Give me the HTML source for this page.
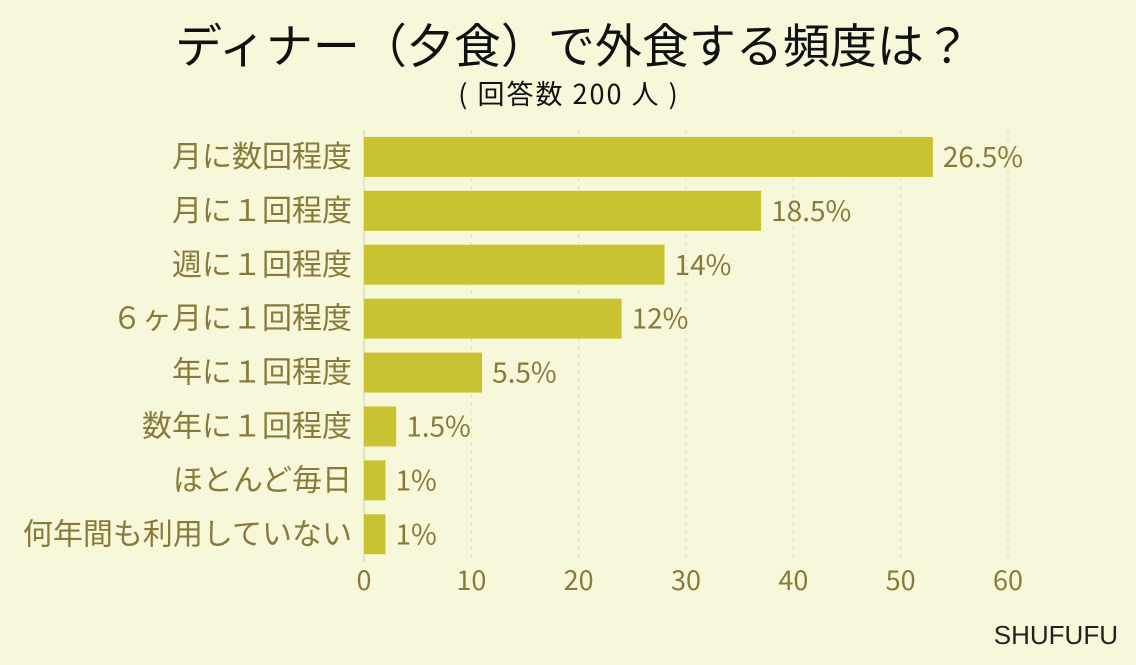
<!DOCTYPE html>
<html><head><meta charset="utf-8">
<style>
body{margin:0;background:#f7f7da;}
#wrap{position:relative;width:1136px;height:665px;background:#f7f7da;font-family:"Liberation Sans","Noto Sans CJK JP",sans-serif;overflow:hidden;}
</style></head>
<body>
<div id="wrap">
<svg id="chart" width="1136" height="665" xmlns="http://www.w3.org/2000/svg">
<text x="573" y="63" text-anchor="middle" font-size="47" fill="#111" font-family="Noto Sans CJK JP, sans-serif">ディナー（夕食）で外食する頻度は？</text>
<text x="569" y="104" text-anchor="middle" font-size="27" letter-spacing="2" fill="#111" font-family="Noto Sans CJK JP, sans-serif">( 回答数 200 人 )</text>
<text x="1118" y="644" text-anchor="end" font-size="26" fill="#222" font-family="Liberation Sans, sans-serif">SHUFUFU</text>
<g id="grid"></g><g id="bars"></g><g id="labels"></g><g id="ticks"></g>
</svg>
</div>
<script>
const categories=["月に数回程度","月に１回程度","週に１回程度","６ヶ月に１回程度","年に１回程度","数年に１回程度","ほとんど毎日","何年間も利用していない"];
const counts=[53,37,28,24,11,3,2,2];
const percentLabels=["26.5%","18.5%","14%","12%","5.5%","1.5%","1%","1%"];
const tickValues=[0,10,20,30,40,50,60];
const NS="http://www.w3.org/2000/svg";
const x0=364,x1=1008,xmax=60,top0=130,rowH=53.9,barH=40;
const xs=v=>x0+(x1-x0)*v/xmax;
const yc=i=>top0+rowH*(i+0.5);
function mk(t,a,p){const e=document.createElementNS(NS,t);for(const k in a)e.setAttribute(k,a[k]);p.appendChild(e);return e;}
const grid=document.getElementById('grid'),bars=document.getElementById('bars'),labels=document.getElementById('labels'),ticks=document.getElementById('ticks');
tickValues.forEach(v=>{
 const l=mk('line',{x1:xs(v),x2:xs(v),y1:130,y2:562,stroke:v===0?'#cfcfb0':'#e0e0c8','stroke-dasharray':v===0?'':'4,4'},grid);
 
 
 const t=mk('text',{x:xs(v),y:590,'text-anchor':'middle','font-size':27,fill:'#8a7a3a','font-family':'Noto Sans CJK JP, sans-serif'},ticks);
 t.textContent=v;
 
 
});
categories.forEach((c,i)=>{
 const y=yc(i);
 const r=mk('rect',{x:x0,y:y-barH/2,width:xs(counts[i])-x0,height:barH,fill:'#c9c332'},bars);
 
 
 const t=mk('text',{x:352,y:y+10,'text-anchor':'end','font-size':30,fill:'#8a7a3a','font-family':'Noto Sans CJK JP, sans-serif'},labels);
 t.textContent=c;
 
 
 const p=mk('text',{x:xs(counts[i])+10,y:y+10,'font-size':28,fill:'#8a7a3a','font-family':'Noto Sans CJK JP, sans-serif'},labels);
 p.textContent=percentLabels[i];
 
 
});
</script>
</body></html>
